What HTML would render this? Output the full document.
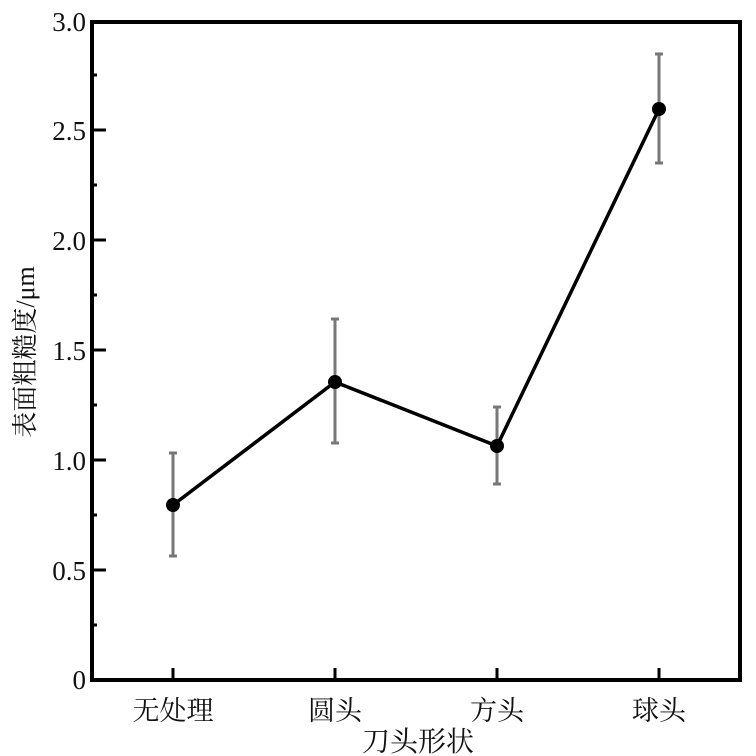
<!DOCTYPE html>
<html><head><meta charset="utf-8"><style>
html,body{margin:0;padding:0;background:#fff;}
svg{display:block;}
text{font-family:"Liberation Serif","Noto Serif CJK SC","Noto Sans CJK SC",serif;fill:#111;}
</style></head><body>
<svg width="756" height="756" viewBox="0 0 756 756" xmlns="http://www.w3.org/2000/svg">
<rect x="92" y="22" width="648" height="658" fill="none" stroke="#000" stroke-width="4"/>
<g stroke="#000" stroke-width="3">
<line x1="92" y1="570" x2="106" y2="570"/>
<line x1="92" y1="460" x2="106" y2="460"/>
<line x1="92" y1="350" x2="106" y2="350"/>
<line x1="92" y1="240" x2="106" y2="240"/>
<line x1="92" y1="130" x2="106" y2="130"/>
<line x1="92" y1="625" x2="97" y2="625"/>
<line x1="92" y1="515" x2="97" y2="515"/>
<line x1="92" y1="405" x2="97" y2="405"/>
<line x1="92" y1="295" x2="97" y2="295"/>
<line x1="92" y1="185" x2="97" y2="185"/>
<line x1="92" y1="75" x2="97" y2="75"/>
<line x1="173" y1="680" x2="173" y2="668"/>
<line x1="335" y1="680" x2="335" y2="668"/>
<line x1="497" y1="680" x2="497" y2="668"/>
<line x1="659" y1="680" x2="659" y2="668"/>
</g>
<g font-size="27" text-anchor="end">
<text x="86" y="689">0</text>
<text x="86" y="580">0.5</text>
<text x="86" y="470">1.0</text>
<text x="86" y="360">1.5</text>
<text x="86" y="250">2.0</text>
<text x="86" y="140">2.5</text>
<text x="86" y="31">3.0</text>
</g>
<g font-size="27" text-anchor="middle">
<text x="173" y="720">无处理</text>
<text x="335" y="720">圆头</text>
<text x="497" y="720">方头</text>
<text x="659" y="720">球头</text>
<text x="418" y="751" font-size="28">刀头形状</text>
</g>
<text x="0" y="0" font-size="26" text-anchor="middle" transform="translate(34,352) rotate(-90)">表面粗糙度/μm</text>
<g stroke="#777" stroke-width="3">
<line x1="173" y1="453" x2="173" y2="556"/><line x1="169" y1="453" x2="177" y2="453"/><line x1="169" y1="556" x2="177" y2="556"/>
<line x1="335" y1="319" x2="335" y2="443"/><line x1="331" y1="319" x2="339" y2="319"/><line x1="331" y1="443" x2="339" y2="443"/>
<line x1="497" y1="407" x2="497" y2="484"/><line x1="493" y1="407" x2="501" y2="407"/><line x1="493" y1="484" x2="501" y2="484"/>
<line x1="659" y1="54" x2="659" y2="163"/><line x1="655" y1="54" x2="663" y2="54"/><line x1="655" y1="163" x2="663" y2="163"/>
</g>
<polyline points="173,505 335,382 497,446 659,109" fill="none" stroke="#000" stroke-width="3.5"/>
<g fill="#000">
<circle cx="173" cy="505" r="7"/><circle cx="335" cy="382" r="7"/><circle cx="497" cy="446" r="7"/><circle cx="659" cy="109" r="7"/>
</g>
</svg>
</body></html>
